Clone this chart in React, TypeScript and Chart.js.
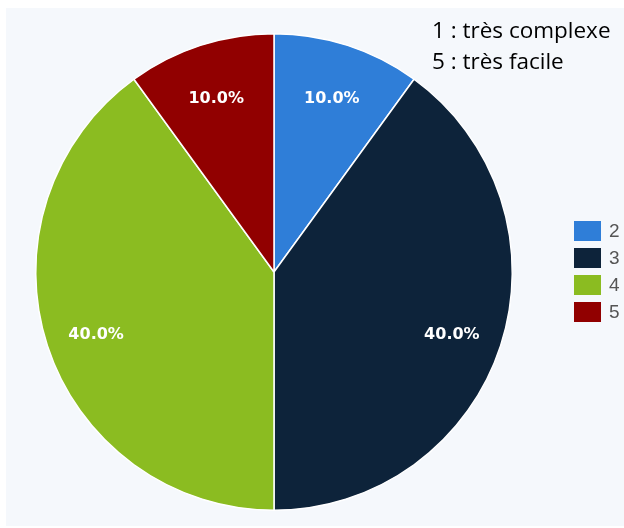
import { useEffect, useRef } from "react";
import { Chart, registerables } from "chart.js";

Chart.register(...registerables);

const categories = ["2", "3", "4", "5"];
const values = [10, 40, 40, 10];
const colors = ["#2f7ed8", "#0d233a", "#8bbc21", "#910000"];
const noteLines = ["1 : très complexe", "5 : très facile"];

const panelPlugin = {
  id: "panelBg",
  beforeDraw(chart: any) {
    const ctx = chart.ctx;
    ctx.save();
    ctx.fillStyle = "#f5f8fc";
    ctx.fillRect(6, 8, chart.width - 6, chart.height - 10);
    ctx.restore();
  },
};

const labelPlugin = {
  id: "sliceLabels",
  afterDatasetsDraw(chart: any) {
    const ctx = chart.ctx;
    const meta = chart.getDatasetMeta(0);
    const data = chart.data.datasets[0].data as number[];
    const total = data.reduce((a, b) => a + b, 0);
    ctx.save();
    ctx.font = "bold 16px 'DejaVu Sans'";
    ctx.fillStyle = "#ffffff";
    ctx.textAlign = "center";
    ctx.textBaseline = "middle";
    meta.data.forEach((arc: any, i: number) => {
      const p = arc.getProps(["x", "y", "startAngle", "endAngle", "outerRadius"], true);
      const mid = (p.startAngle + p.endAngle) / 2;
      const r = p.outerRadius * 0.785;
      const pct = ((data[i] / total) * 100).toFixed(1) + "%";
      ctx.fillText(pct, p.x + Math.cos(mid) * r, p.y + Math.sin(mid) * r + 5);
    });
    ctx.restore();
  },
};

const legendPlugin = {
  id: "sideLegend",
  afterDraw(chart: any) {
    const ctx = chart.ctx;
    const ds = chart.data.datasets[0];
    const labels = chart.data.labels as string[];
    ctx.save();
    labels.forEach((lab, i) => {
      const y = 221 + i * 27;
      ctx.fillStyle = ds.backgroundColor[i];
      ctx.fillRect(574, y, 27, 20);
      ctx.fillStyle = "#555555";
      ctx.font = "19px 'Liberation Sans'";
      ctx.textAlign = "left";
      ctx.textBaseline = "middle";
      ctx.fillText(lab, 609, y + 11);
    });
    ctx.fillStyle = "#000000";
    ctx.font = "22.5px 'Open Sans'";
    ctx.textBaseline = "alphabetic";
    noteLines.forEach((t, i) => {
      ctx.fillText(t, 432, 38 + i * 31);
    });
    ctx.restore();
  },
};

export default function App() {
  const ref = useRef<HTMLCanvasElement | null>(null);
  useEffect(() => {
    if (!ref.current) return;
    const chart = new Chart(ref.current, {
      type: "pie",
      data: {
        labels: categories,
        datasets: [
          {
            data: values,
            backgroundColor: colors,
            borderColor: "#ffffff",
            borderWidth: 1.5,
          },
        ],
      },
      options: {
        responsive: false,
        animation: false,
        layout: { padding: { left: 35, top: 33, right: 111, bottom: 17 } },
        plugins: {
          legend: { display: false },
          tooltip: { enabled: false },
          title: { display: false },
        },
      },
      plugins: [panelPlugin, labelPlugin, legendPlugin],
    });
    return () => chart.destroy();
  }, []);
  return (
    <div style={{ position: "fixed", left: 0, top: 0, width: 624, height: 528, background: "#ffffff" }}>
      <canvas ref={ref} width={624} height={528} style={{ display: "block" }} />
    </div>
  );
}
